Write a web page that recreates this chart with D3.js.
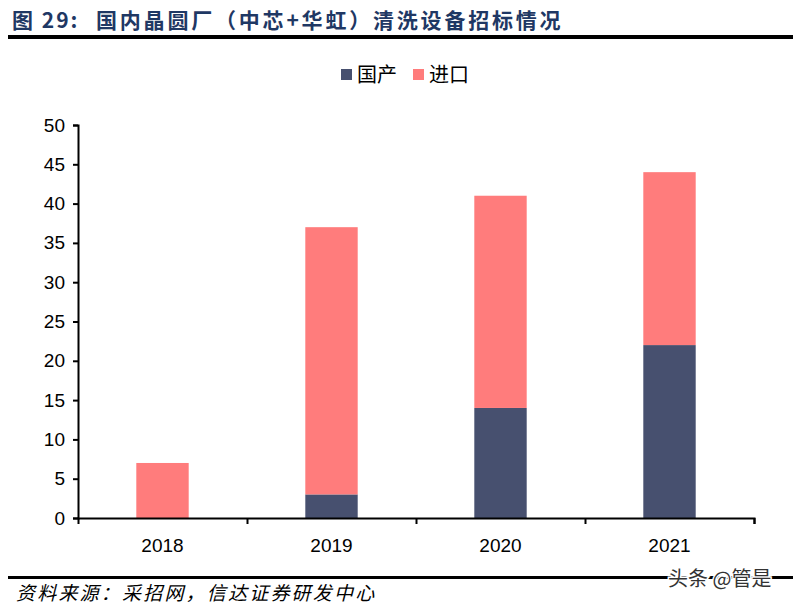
<!DOCTYPE html>
<html lang="zh">
<head>
<meta charset="UTF-8">
<title>清洗设备招标情况</title>
<script src="https://d3js.org/d3.v7.min.js"></script>
<style>
    body { margin: 0; background: #fff; }
    .axis text { font-family: "Liberation Sans", Arial, sans-serif; font-size: 19px; fill: #000; }
    .axis path, .axis line { stroke: #000; stroke-width: 2px; }
</style>
</head>
<body>
<svg id="chart" width="793" height="605"></svg>
<script>
var years = ["2018", "2019", "2020", "2021"];
var domestic = [0, 3, 14, 22];   // 国产
var imported = [7, 34, 27, 22];  // 进口
var seriesNames = ["国产", "进口"];
var seriesColors = ["#47506F", "#FF7C7C"];
var yTicks = [0, 5, 10, 15, 20, 25, 30, 35, 40, 45, 50];

var svg = d3.select("#chart");
var cjk = "'Noto Sans CJK SC', sans-serif";

// 标题
var title = svg.append("text")
   .attr("y", 28)
   .attr("font-family", cjk)
   .attr("font-size", 21).attr("font-weight", "bold")
   .attr("fill", "#1F3864");
title.append("tspan").attr("x", 12).attr("letter-spacing", 2).text("图 29:");
title.append("tspan").attr("x", 96).attr("letter-spacing", 2.8).text("国内晶圆厂（中芯+华虹）清洗设备招标情况");
svg.append("rect").attr("x", 8).attr("y", 35).attr("width", 785).attr("height", 4).attr("fill", "#000");

var x = d3.scaleBand().domain(years).range([78, 754]).paddingInner(0.69).paddingOuter(0.345);
var y = d3.scaleLinear().domain([0, 50]).range([518, 125]);

var rows = years.map(function(yr, i) {
    return { year: yr, "国产": domestic[i], "进口": imported[i] };
});
var stack = d3.stack().keys(seriesNames)(rows);

svg.append("g").selectAll("g")
   .data(stack).enter().append("g")
   .attr("fill", function(d, i) { return seriesColors[i]; })
   .selectAll("rect")
   .data(function(d) { return d; }).enter().append("rect")
   .attr("x", function(d) { return x(d.data.year); })
   .attr("width", x.bandwidth())
   .attr("y", function(d) { return y(d[1]); })
   .attr("height", function(d) { return y(d[0]) - y(d[1]); });

// 坐标轴
var yAxis = d3.axisLeft(y).tickValues(yTicks).tickSize(5).tickPadding(8);
svg.append("g").attr("class", "axis").attr("transform", "translate(78,0)").call(yAxis);

var xOuter = d3.scaleLinear().domain([0, years.length]).range([78, 754]);
var xAxis = d3.axisBottom(xOuter).ticks(years.length).tickSize(6).tickFormat("");
svg.append("g").attr("class", "axis").attr("transform", "translate(0,518)").call(xAxis)
   .selectAll(".tick").filter(function(d) { return d === 0; }).remove();

svg.append("g").attr("class", "axis").selectAll("text")
   .data(years).enter().append("text")
   .attr("x", function(d) { return x(d) + x.bandwidth() / 2; })
   .attr("y", 552)
   .attr("text-anchor", "middle")
   .text(function(d) { return d; });

// 图例
var legend = svg.append("g").selectAll("g")
   .data(seriesNames).enter().append("g")
   .attr("transform", function(d, i) { return "translate(" + (341 + i * 72) + ",0)"; });
legend.append("rect").attr("y", 69).attr("width", 11).attr("height", 11)
   .attr("fill", function(d, i) { return seriesColors[i]; });
legend.append("text").attr("x", 16).attr("y", 82)
   .attr("font-family", cjk).attr("font-size", 20).attr("fill", "#000")
   .text(function(d) { return d; });

// 页脚
svg.append("rect").attr("x", 8).attr("y", 576).attr("width", 785).attr("height", 3).attr("fill", "#000");
svg.append("text")
   .attr("x", 16).attr("y", 600)
   .attr("font-family", cjk).attr("font-size", 19).attr("font-style", "italic")
   .attr("letter-spacing", 2.2)
   .attr("fill", "#000")
   .text("资料来源：采招网，信达证券研发中心");
svg.append("text")
   .attr("x", 668).attr("y", 586)
   .attr("font-family", cjk).attr("font-size", 20)
   .attr("fill", "#333").attr("stroke", "#fff").attr("stroke-width", 3)
   .attr("paint-order", "stroke")
   .text("头条 @管是");
</script>
</body>
</html>
